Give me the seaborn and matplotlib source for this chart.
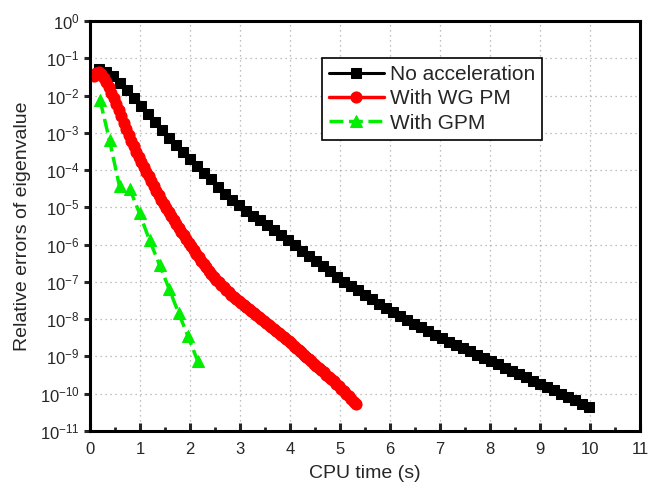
import numpy as np
import pandas as pd
import seaborn as sns
import matplotlib.pyplot as plt
from matplotlib.ticker import FixedLocator, MultipleLocator, NullLocator

# CPU time (s) and log10 of the relative eigenvalue error
no_acc_time = [0.17, 0.31, 0.45, 0.59, 0.73, 0.87, 1.01, 1.15, 1.29, 1.43, 1.57, 1.71,
               1.85, 1.99, 2.13, 2.27, 2.41, 2.55, 2.69, 2.83, 2.97, 3.11, 3.25, 3.39,
               3.53, 3.67, 3.81, 3.95, 4.09, 4.23, 4.37, 4.51, 4.65, 4.79, 4.93, 5.07,
               5.21, 5.35, 5.49, 5.63, 5.77, 5.91, 6.05, 6.19, 6.33, 6.47, 6.61, 6.75,
               6.89, 7.03, 7.17, 7.31, 7.45, 7.59, 7.73, 7.87, 8.01, 8.15, 8.29, 8.43,
               8.57, 8.71, 8.85, 8.99, 9.13, 9.27, 9.41, 9.55, 9.69, 9.83, 9.97]
no_acc_log = [-1.30, -1.36, -1.48, -1.66, -1.86, -2.07, -2.28, -2.50, -2.71, -2.92, -3.13, -3.33,
              -3.52, -3.71, -3.89, -4.07, -4.25, -4.46, -4.63, -4.79, -4.95, -5.09, -5.22, -5.35,
              -5.48, -5.60, -5.73, -5.88, -6.02, -6.16, -6.30, -6.44, -6.58, -6.72, -6.86, -6.99,
              -7.11, -7.23, -7.35, -7.47, -7.59, -7.71, -7.82, -7.92, -8.02, -8.12, -8.22, -8.32,
              -8.42, -8.51, -8.60, -8.69, -8.77, -8.86, -8.95, -9.04, -9.13, -9.21, -9.30, -9.39,
              -9.48, -9.56, -9.65, -9.74, -9.83, -9.91, -10.00, -10.09, -10.18, -10.27, -10.35]

wg_time = [0.07, 0.12, 0.17, 0.22, 0.27, 0.32, 0.37, 0.42, 0.47, 0.52, 0.57, 0.62, 0.67,
           0.72, 0.77, 0.82, 0.87, 0.92, 0.97, 1.02, 1.07, 1.12, 1.17, 1.22, 1.27, 1.32,
           1.37, 1.42, 1.47, 1.52, 1.57, 1.62, 1.67, 1.72, 1.77, 1.82, 1.87, 1.92, 1.97,
           2.02, 2.07, 2.12, 2.17, 2.22, 2.27, 2.32, 2.37, 2.42, 2.47, 2.52, 2.57, 2.62,
           2.67, 2.72, 2.77, 2.82, 2.87, 2.92, 2.97, 3.02, 3.07, 3.12, 3.17, 3.22, 3.27,
           3.32, 3.37, 3.42, 3.47, 3.52, 3.57, 3.62, 3.67, 3.72, 3.77, 3.82, 3.87, 3.92,
           3.97, 4.02, 4.07, 4.12, 4.17, 4.22, 4.27, 4.32, 4.37, 4.42, 4.47, 4.52, 4.57,
           4.62, 4.67, 4.72, 4.77, 4.82, 4.87, 4.92, 4.97, 5.02, 5.07, 5.12, 5.17, 5.22,
           5.27, 5.32]
wg_log = [-1.47, -1.40, -1.37, -1.43, -1.52, -1.64, -1.78, -1.92, -2.07, -2.23, -2.39, -2.56, -2.73,
          -2.89, -3.05, -3.21, -3.36, -3.51, -3.65, -3.79, -3.92, -4.05, -4.17, -4.30, -4.43, -4.56,
          -4.68, -4.79, -4.90, -5.01, -5.12, -5.23, -5.34, -5.44, -5.55, -5.65, -5.75, -5.85, -5.95,
          -6.05, -6.15, -6.24, -6.34, -6.43, -6.52, -6.61, -6.70, -6.78, -6.86, -6.94, -7.01, -7.08,
          -7.15, -7.22, -7.28, -7.34, -7.40, -7.46, -7.52, -7.57, -7.63, -7.68, -7.73, -7.79, -7.84,
          -7.89, -7.94, -7.99, -8.05, -8.10, -8.15, -8.21, -8.26, -8.31, -8.37, -8.42, -8.48, -8.53,
          -8.59, -8.65, -8.71, -8.77, -8.83, -8.89, -8.95, -9.01, -9.07, -9.13, -9.19, -9.25, -9.31,
          -9.37, -9.43, -9.49, -9.55, -9.61, -9.67, -9.74, -9.80, -9.87, -9.93, -10.00, -10.07, -10.14,
          -10.21, -10.28]

gpm_time = [0.20, 0.39, 0.59, 0.80, 0.99, 1.19, 1.39, 1.58, 1.77, 1.96, 2.15]
gpm_log = [-2.12, -3.20, -4.44, -4.52, -5.16, -5.88, -6.54, -7.18, -7.83, -8.46, -9.11]

labels = ["No acceleration", "With WG PM", "With GPM"]

sns.set_style("white")
plt.rcParams["font.family"] = ["Liberation Sans", "DejaVu Sans"]
plt.rcParams["mathtext.default"] = "regular"

fig, ax = plt.subplots(figsize=(6.59, 4.83), dpi=100)
fig.subplots_adjust(left=0.1366, right=0.9712, top=0.9565, bottom=0.1077)

df_no = pd.DataFrame({"t": no_acc_time, "err": 10.0 ** np.array(no_acc_log)})
df_wg = pd.DataFrame({"t": wg_time, "err": 10.0 ** np.array(wg_log)})
df_gp = pd.DataFrame({"t": gpm_time, "err": 10.0 ** np.array(gpm_log)})

sns.lineplot(data=df_no, x="t", y="err", ax=ax, color="black", lw=2.2,
             marker="s", markersize=7, markeredgecolor="black", label=labels[0])
sns.lineplot(data=df_wg, x="t", y="err", ax=ax, color="#ff0000", lw=2.5,
             marker="o", markersize=8, markeredgecolor="#ff0000", label=labels[1])
sns.lineplot(data=df_gp, x="t", y="err", ax=ax, color="#00ee00", lw=2.5,
             linestyle=(0, (4, 1.6)), marker="^", markersize=8.5,
             markeredgecolor="#00ee00", label=labels[2])

ax.set_yscale("log")
ax.set_xlim(0, 11)
ax.set_ylim(1e-11, 1)
ax.yaxis.set_major_locator(FixedLocator([10.0 ** k for k in range(-11, 1)]))
ax.yaxis.set_minor_locator(NullLocator())
ax.xaxis.set_major_locator(MultipleLocator(1))
ax.xaxis.set_minor_locator(MultipleLocator(0.5))

ax.grid(True, which="major", linestyle=(0, (1, 3)), color="#aaaaaa", lw=0.9)

for side in ["left", "right", "top", "bottom"]:
    ax.spines[side].set_visible(True)
    ax.spines[side].set_color("black")
    ax.spines[side].set_linewidth(2.2)

ax.tick_params(axis="x", which="major", direction="in", length=6, width=2.2,
               labelsize=12, pad=8, bottom=True, top=False)
ax.tick_params(axis="x", which="minor", direction="in", length=3, width=2,
               bottom=True, top=False)
ax.tick_params(axis="y", which="major", direction="out", length=4, width=2.2,
               labelsize=12, left=True, right=False)

ax.set_xlabel("CPU time (s)", fontsize=14, labelpad=6)
ax.set_ylabel("Relative errors of eigenvalue", fontsize=14, labelpad=6)

leg = ax.legend(loc="upper left", bbox_to_anchor=(0.422, 0.91), borderaxespad=0,
                fontsize=15, frameon=True, fancybox=False, framealpha=1,
                edgecolor="black", handlelength=2.6, labelspacing=0.25,
                borderpad=0.35, handletextpad=0.3)
leg.get_frame().set_linewidth(1.2)

fig.savefig("out.png", dpi=100)
